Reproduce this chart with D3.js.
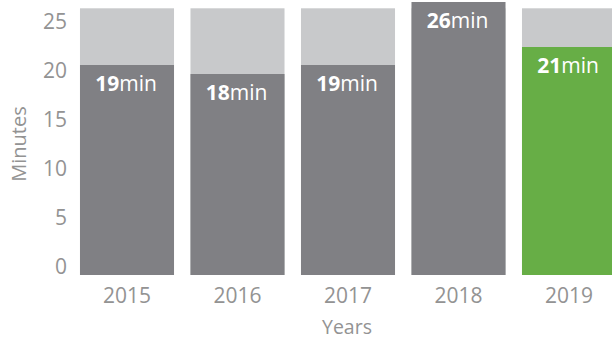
<!DOCTYPE html>
<html>
<head>
<meta charset="utf-8">
<script src="https://cdn.jsdelivr.net/npm/d3@7"></script>
<style>
  html, body { margin: 0; padding: 0; background: #fff; }
  svg { display: block; overflow: hidden; }
  text { font-family: "Open Sans", sans-serif; }
</style>
</head>
<body>
<svg id="chart" width="612" height="339"></svg>
<script>
// Average minutes per year
const years = ["2015", "2016", "2017", "2018", "2019"];
const minutes = [19, 18, 19, 26, 21];
const trackMax = 25.3;            // height of the light backdrop bars
const yTicks = [0, 5, 10, 15, 20, 25];
const highlightYear = "2019";

const svg = d3.select("#chart");
const axisGrey = "#939393";

const x = d3.scaleBand()
  .domain(years)
  .range([71.75, 624.25])
  .paddingInner(0.149)
  .paddingOuter(0.0745);

// bar heights rise from a common base below the axis zero
const barY = d3.scaleLinear().domain([-4.33, 26]).range([275, 2]);
// value axis labels
const axisY = d3.scaleLinear().domain([0, 25]).range([267, 21.7]);

const data = years.map((y, i) => ({ year: y, value: minutes[i] }));

// backdrop bars
svg.append("g").selectAll("rect")
  .data(data)
  .join("rect")
  .attr("x", d => x(d.year))
  .attr("width", x.bandwidth())
  .attr("y", barY(trackMax))
  .attr("height", barY(barY.domain()[0]) - barY(trackMax))
  .attr("fill", "#c8c9cb");

// value bars
svg.append("g").selectAll("rect")
  .data(data)
  .join("rect")
  .attr("x", d => x(d.year))
  .attr("width", x.bandwidth())
  .attr("y", d => barY(d.value))
  .attr("height", d => barY(barY.domain()[0]) - barY(d.value))
  .attr("fill", d => d.year === highlightYear ? "#67ae46" : "#808084");

// value labels
const lbl = svg.append("g").selectAll("text")
  .data(data)
  .join("text")
  .attr("x", d => x(d.year) + x.bandwidth() / 2 - 1)
  .attr("y", d => barY(d.value) + 25.5)
  .attr("text-anchor", "middle")
  .attr("fill", "#ffffff")
  .style("font-size", "21px");
lbl.append("tspan").style("font-weight", "700").text(d => d.value);
lbl.append("tspan").style("font-weight", "400").text("min");

// y axis
const yAxis = svg.append("g")
  .attr("transform", "translate(70,0)")
  .call(d3.axisLeft(axisY).tickValues(yTicks).tickSize(0).tickPadding(3));
yAxis.select(".domain").remove();
yAxis.selectAll("text")
  .attr("fill", axisGrey)
  .style("font-size", "21px")
  .style("font-family", "'Open Sans', sans-serif");

// x axis labels
svg.append("g").selectAll("text")
  .data(years)
  .join("text")
  .attr("x", d => x(d) + x.bandwidth() / 2)
  .attr("y", 303)
  .attr("text-anchor", "middle")
  .attr("fill", axisGrey)
  .style("font-size", "21px")
  .text(d => d);

// axis titles
svg.append("text")
  .attr("x", 347)
  .attr("y", 334)
  .attr("text-anchor", "middle")
  .attr("fill", axisGrey)
  .style("font-size", "19.5px")
  .text("Years");

svg.append("text")
  .attr("transform", "translate(26,144) rotate(-90)")
  .attr("text-anchor", "middle")
  .attr("fill", axisGrey)
  .style("font-size", "20px")
  .text("Minutes");
</script>
</body>
</html>
